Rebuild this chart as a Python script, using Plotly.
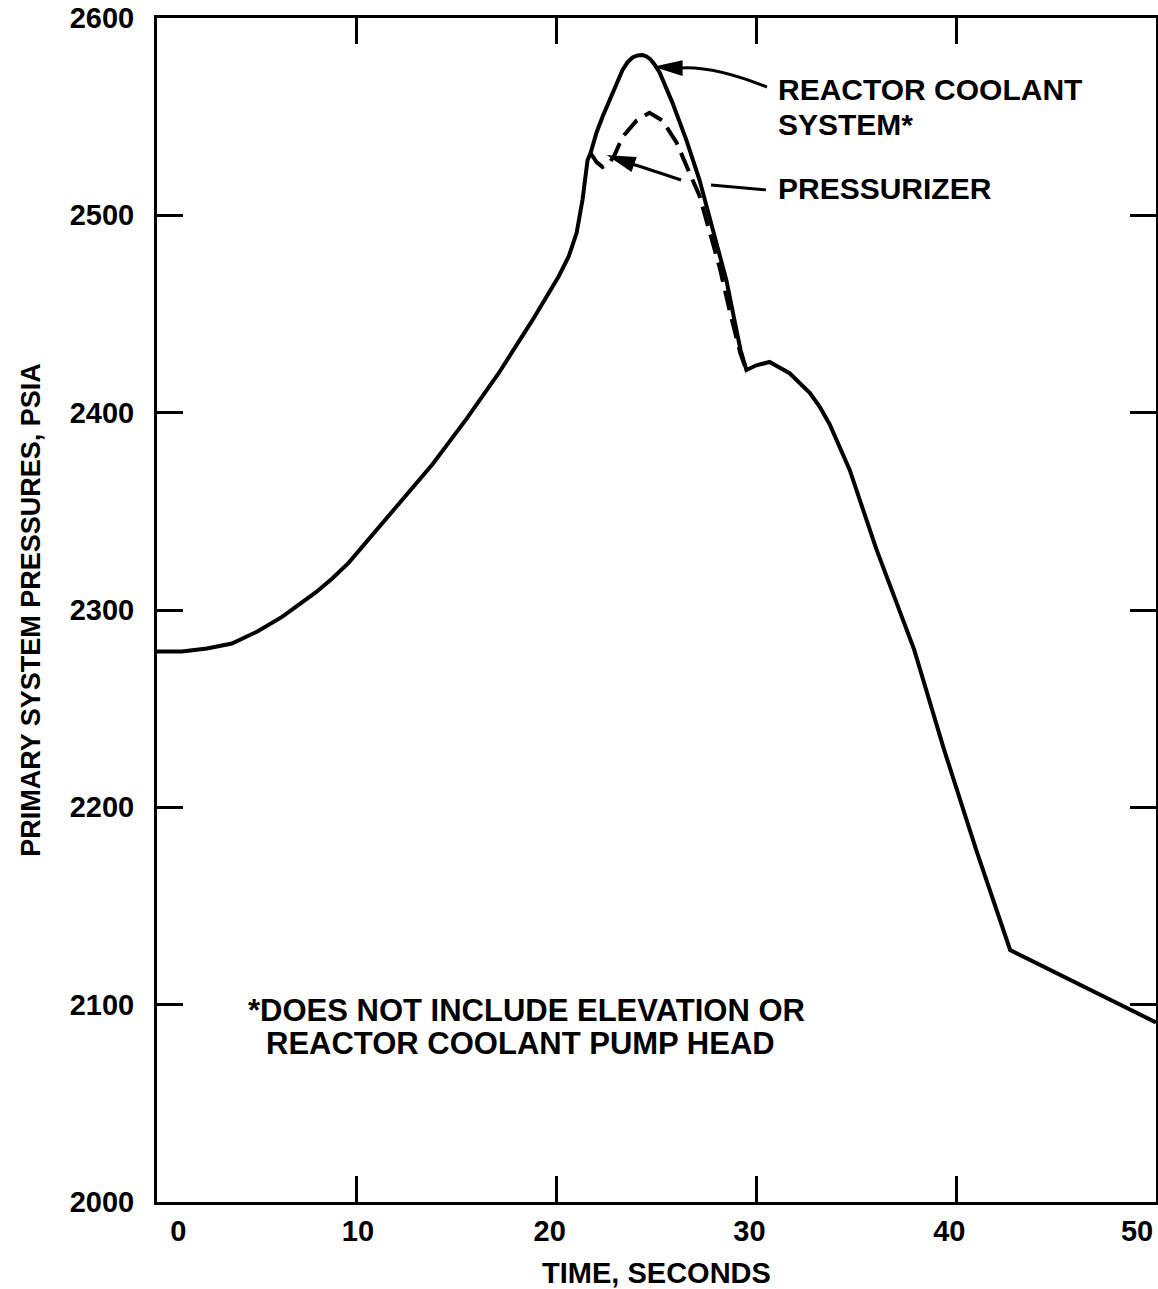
import plotly.graph_objects as go

# Reactor coolant system pressure (psia) versus time (s)
rcs_time = [0, 1.25, 2.5, 3.75, 5, 6.26, 7.96, 8.77, 9.6, 11.26, 12.1, 13.8, 15.5, 17.1,
            18.8, 20.1, 20.6, 21.0, 21.3, 21.55, 21.7, 22.0, 22.3, 22.8, 23.3, 23.55,
            23.8, 24.05, 24.3, 24.5, 24.7, 24.9, 25.15, 25.8, 26.5, 27.15, 27.8, 28.5,
            29.0, 29.2, 29.5, 30.0, 30.66, 31.66, 32.67, 33.17, 33.67, 34.17, 34.67,
            35.3, 36.0, 37.9, 39.4, 41.0, 42.7, 50]
rcs_pressure = [2279, 2279, 2280.5, 2283, 2289, 2296.5, 2309, 2316, 2324, 2344, 2354,
                2374, 2397, 2420, 2447, 2469, 2479, 2491, 2508, 2528, 2531.6, 2542,
                2550, 2562, 2573.7, 2577.5, 2580, 2581, 2581.2, 2580.5, 2579, 2576.5,
                2572.5, 2557, 2538, 2518, 2494, 2467, 2442, 2432, 2421.6, 2424, 2425.7,
                2420, 2410, 2403, 2394, 2383, 2371, 2352, 2331, 2279.8, 2229, 2178.4,
                2127.7, 2091]

# Pressurizer pressure (psia) where it departs from the coolant system curve
prz_time = [21.7, 22.0, 22.3, 22.65, 22.9, 23.3, 24.0, 24.65, 25.3, 26.0, 26.65,
            27.15, 27.65, 28.15, 28.7, 29.2, 29.5]
prz_pressure = [2531.6, 2527, 2524.5, 2526.6, 2530.6, 2539.7, 2548, 2552, 2548, 2537,
                2521.5, 2510, 2492, 2474, 2450, 2430, 2421.6]

x_ticks = [0, 10, 20, 30, 40, 50]
x_tick_labels = ["0", "10", "20", "30", "40", "50"]
y_ticks = [2000, 2100, 2200, 2300, 2400, 2500, 2600]

# Leading non-breaking spaces nudge the end labels clear of the frame corners
label_pad = [10, 5, 3, 3, 3, 0]
x_tick_text = ["\u00a0" * n + s for n, s in zip(label_pad, x_tick_labels)]

FONT = "Liberation Sans, Arial, Helvetica, sans-serif"
INK = "#000000"

fig = go.Figure()
fig.add_trace(go.Scatter(x=rcs_time, y=rcs_pressure, mode="lines",
                         line=dict(color=INK, width=4), hoverinfo="skip"))
fig.add_trace(go.Scatter(x=prz_time, y=prz_pressure, mode="lines",
                         line=dict(color=INK, width=4, dash="20px,9px"),
                         hoverinfo="skip"))

# Leader lines (quadratic curves) and arrowheads for the curve labels
leader = dict(type="path", xref="x", yref="y", line=dict(color=INK, width=3))
fig.add_shape(path="M 30.53 2565.0 Q 27.88 2575.7 26.23 2574.7", **leader)
fig.add_shape(path="M 25.13 2575.2 L 26.23 2577.7 L 26.23 2571.6 Z",
              fillcolor=INK, **leader)
fig.add_shape(path="M 30.48 2512.9 L 27.73 2515.4", **leader)
fig.add_shape(path="M 26.23 2517.9 Q 24.62 2523.4 23.81 2525.9", **leader)
fig.add_shape(path="M 22.77 2529.6 L 23.91 2528.9 L 23.71 2523.1 Z",
              fillcolor=INK, **leader)

txt = dict(family=FONT, size=30, color=INK, weight="bold")
fig.add_annotation(x=30.98, y=2564, xref="x", yref="y", xanchor="left",
                   yanchor="middle", showarrow=False,
                   text="REACTOR COOLANT", font=txt)
fig.add_annotation(x=30.98, y=2546, xref="x", yref="y", xanchor="left",
                   yanchor="middle", showarrow=False,
                   text="SYSTEM*", font=txt)
fig.add_annotation(x=30.98, y=2513.5, xref="x", yref="y", xanchor="left",
                   yanchor="middle", showarrow=False, text="PRESSURIZER", font=txt)
note = dict(family=FONT, size=31, color=INK, weight="bold")
fig.add_annotation(x=4.45, y=2097.2, xref="x", yref="y", xanchor="left",
                   yanchor="middle", showarrow=False,
                   text="*DOES NOT INCLUDE ELEVATION OR", font=note)
fig.add_annotation(x=5.36, y=2080.3, xref="x", yref="y", xanchor="left",
                   yanchor="middle", showarrow=False,
                   text="REACTOR COOLANT PUMP HEAD", font=note)

axis_common = dict(showline=True, linecolor=INK, linewidth=3, mirror="ticks",
                   ticks="inside", ticklen=26, tickwidth=3, tickcolor=INK,
                   showgrid=False, zeroline=False, automargin=False,
                   tickfont=dict(family=FONT, size=29, color=INK, weight="bold"))

fig.update_layout(
    width=1158, height=1289,
    margin=dict(l=157, r=2, t=18, b=87),
    paper_bgcolor="white", plot_bgcolor="white",
    showlegend=False,
    font=dict(family=FONT, color=INK),
    xaxis=dict(range=[0, 50], tickvals=x_ticks, ticktext=x_tick_text,
               ticklabelstandoff=1, ticklabelshift=-19,
               title=dict(text="TIME, SECONDS", standoff=20,
                          font=dict(family=FONT, size=29, color=INK, weight="bold")),
               **axis_common),
    yaxis=dict(range=[2000, 2600], tickvals=y_ticks,
               ticklabelstandoff=14,
               title=dict(text="PRIMARY SYSTEM PRESSURES, PSIA", standoff=22,
                          font=dict(family=FONT, size=27, color=INK, weight="bold")),
               **axis_common),
)

fig.write_html("out.html")
